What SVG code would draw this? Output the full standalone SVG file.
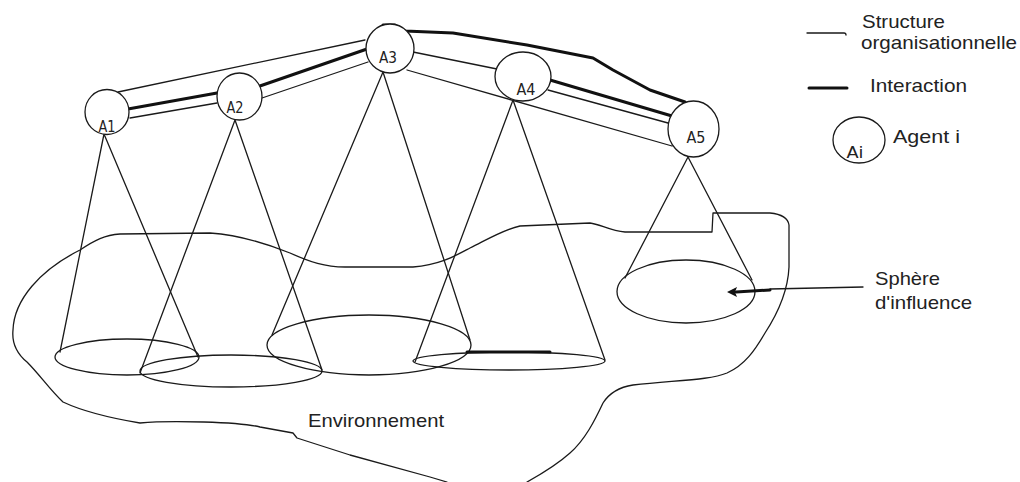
<svg xmlns="http://www.w3.org/2000/svg" width="1020" height="482" viewBox="0 0 1020 482">
<style>
.ln{fill:none;stroke:#1a1a1a;stroke-width:1.3;stroke-linejoin:round;stroke-linecap:round}
.tk{fill:none;stroke:#111;stroke-width:3;stroke-linecap:round;stroke-linejoin:round}
.ag{fill:#fff;stroke:#1a1a1a;stroke-width:1.3}
.lab{font-family:"DejaVu Sans Condensed","Liberation Sans",sans-serif;font-size:16px;fill:#222;text-anchor:middle}
.txt{font-family:"Liberation Sans",Arial,sans-serif;font-size:19px;fill:#222}
</style>
<rect width="1020" height="482" fill="#fff"/>
<g id="environment">
<path class="ln" d="M447,482 L430,477 L350,455 L297,438 L293,433 L260,427 C240,422 170,420 140,423 C110,418 80,410 63,402 C50,390 40,375 27,362 C15,352 12,340 13,330 C14,300 40,270 80,250 C95,240 105,235 120,234 L210,233 C240,235 265,243 290,253 C310,262 325,267 345,267 L413,267 C440,265 455,256 470,248 C490,238 505,229 520,226 L590,223 C600,224 610,231 625,232 L712,232 L713,213 L770,213 C780,214 788,218 789,225 L789,267 C788,290 780,310 765,333 C755,350 745,365 727,373 C710,380 680,380 633,385 C620,387 610,392 603,403 C595,420 585,440 570,453 C560,462 545,472 527,482"/>
<text class="txt" x="308" y="427" textLength="136" lengthAdjust="spacingAndGlyphs">Environnement</text>
</g>
<g id="spheres">
<ellipse class="ln" cx="127" cy="357" rx="72" ry="18"/>
<ellipse class="ln" cx="231" cy="371" rx="91" ry="16"/>
<ellipse class="ln" cx="369" cy="345" rx="102" ry="30"/>
<ellipse class="ln" cx="509" cy="361" rx="96" ry="9"/>
<ellipse class="ln" cx="686" cy="291.5" rx="69" ry="31.5"/>
<line class="tk" x1="467" y1="352" x2="550" y2="352" stroke-width="2.5"/>
</g>
<g id="cones">
<path class="ln" d="M104,134 L60,352 M104,134 L198,357"/>
<path class="ln" d="M235,120 L140,373 M235,120 L322,370"/>
<path class="ln" d="M383,72 L272,335 M383,72 L470,340"/>
<path class="ln" d="M513,100 L415,362 M513,100 L605,360"/>
<path class="ln" d="M688,157 L625,278 M688,157 L752,280"/>
</g>
<g id="connectors">
<line class="ln" x1="118" y1="92" x2="365" y2="40"/>
<line class="tk" x1="128" y1="109" x2="217" y2="93" stroke-width="2.6"/>
<line class="ln" x1="130" y1="118" x2="217" y2="103"/>
<line class="tk" x1="257" y1="87" x2="367" y2="49" stroke-width="2.6"/>
<line class="ln" x1="262" y1="98" x2="368" y2="62"/>
<path class="tk" d="M383,25 L395,25 L405,31 L453,33 L527,45 L593,58 L613,70 L650,90 L685,102" stroke-width="2.6"/>
<line class="ln" x1="413" y1="52" x2="497" y2="69"/>
<line class="ln" x1="407" y1="70" x2="672" y2="146"/>
<line class="tk" x1="550" y1="80" x2="672" y2="116" stroke-width="2.6"/>
<line class="ln" x1="548" y1="90" x2="668" y2="123"/>
</g>
<g id="A1"><ellipse class="ag" cx="107" cy="112" rx="22" ry="22.5"/><text class="lab" x="107" y="132" textLength="17" lengthAdjust="spacingAndGlyphs">A1</text></g>
<g id="A2"><ellipse class="ag" cx="239.5" cy="96.5" rx="22.5" ry="23.5"/><text class="lab" x="235" y="113" textLength="17" lengthAdjust="spacingAndGlyphs">A2</text></g>
<g id="A3"><ellipse class="ag" cx="390" cy="48.5" rx="24" ry="24.5"/><text class="lab" x="388" y="63" textLength="18" lengthAdjust="spacingAndGlyphs">A3</text></g>
<g id="A4"><ellipse class="ag" cx="523" cy="76.5" rx="28" ry="24.5"/><text class="lab" x="526" y="95" textLength="19" lengthAdjust="spacingAndGlyphs">A4</text></g>
<g id="A5"><ellipse class="ag" cx="693.5" cy="129" rx="25.5" ry="28"/><text class="lab" x="696" y="143" textLength="19" lengthAdjust="spacingAndGlyphs">A5</text></g>
<g id="sphere-label">
<path class="ln" d="M863,287 L770,289"/>
<path class="tk" d="M770,290 L736,292" stroke-width="2.5"/>
<path d="M727,292 L737,287 L735,292 L737,297 Z" fill="#111"/>
<text class="txt" x="875" y="285" textLength="65" lengthAdjust="spacingAndGlyphs">Sphère</text>
<text class="txt" x="875" y="309" textLength="97" lengthAdjust="spacingAndGlyphs">d'influence</text>
</g>
<g id="legend">
<path class="ln" d="M807,33 L844,33 Q846,33 846,35"/>
<text class="txt" x="862" y="28" textLength="83" lengthAdjust="spacingAndGlyphs">Structure</text>
<text class="txt" x="861" y="49" textLength="156" lengthAdjust="spacingAndGlyphs">organisationnelle</text>
<line class="tk" x1="809" y1="88" x2="847" y2="88" stroke-linecap="butt"/>
<text class="txt" x="870" y="92" textLength="97" lengthAdjust="spacingAndGlyphs">Interaction</text>
<ellipse class="ag" cx="859" cy="140" rx="26" ry="23"/>
<text class="lab" x="855" y="158" textLength="17" lengthAdjust="spacingAndGlyphs">Ai</text>
<text class="txt" x="893" y="143" textLength="67" lengthAdjust="spacingAndGlyphs">Agent i</text>
</g>
</svg>
